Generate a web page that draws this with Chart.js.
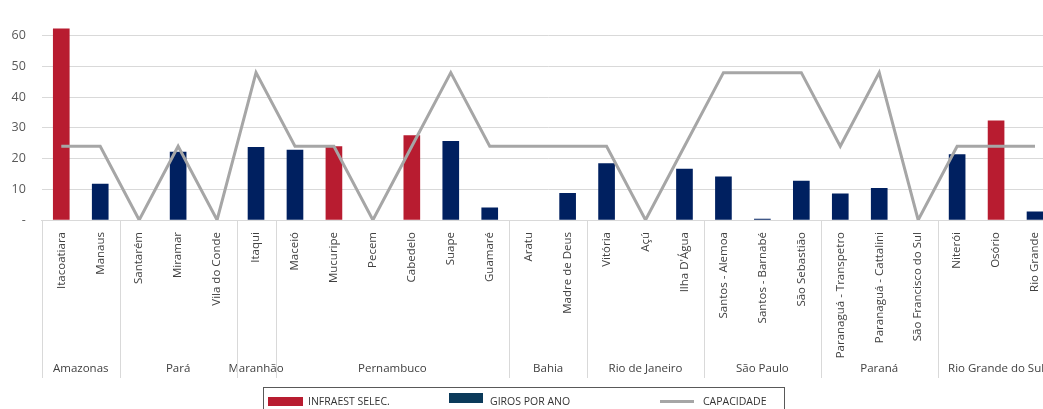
<!DOCTYPE html>
<html>
<head>
<meta charset="utf-8">
<script src="https://cdn.jsdelivr.net/npm/chart.js@4.4.1/dist/chart.umd.min.js"></script>
<style>
  body { margin: 0; background: #fff; }
  #wrap { width: 1043px; height: 409px; overflow: hidden; position: relative; }
</style>
</head>
<body>
<div id="wrap"><canvas id="myChart" width="1062" height="409"></canvas></div>
<script>
// categorias (terminais) e grupos por estado
var categorias = ['Itacoatiara','Manaus','Santarém','Miramar','Vila do Conde','Itaqui','Maceió','Mucuripe','Pecem','Cabedelo','Suape','Guamaré','Aratu','Madre de Deus','Vitória','Açú',"Ilha D'Água",'Santos - Alemoa','Santos - Barnabé','São Sebastião','Paranaguá - Transpetro','Paranaguá - Cattalini','São Francisco do Sul','Niterói','Osório','Rio Grande'];
var estados = ['Amazonas','Pará','Maranhão','Pernambuco','Bahia','Rio de Janeiro','São Paulo','Paraná','Rio Grande do Sul'];
var terminaisPorEstado = [2,3,1,6,2,3,3,3,3];

// series (null = sem barra)
var infraestSelec = [62.3,null,null,null,null,null,null,23.9,null,27.5,null,null,null,null,null,null,null,null,null,null,null,null,null,null,32.3,null];
var girosPorAno = [null,11.7,null,22.1,null,23.7,22.8,null,null,null,25.6,4.0,null,8.7,18.4,null,16.6,14.1,0.3,12.7,8.5,10.3,null,21.3,null,2.7];
var capacidade = [24,24,0,24,0,48,24,24,0,24,48,24,24,24,24,0,24,48,48,48,24,48,0,24,24,24];

// ticks do eixo y
var ticksY = [0,10,20,30,40,50,60];

var fonte = "'Open Sans', sans-serif";

// plugin: separadores e nomes dos estados embaixo do eixo x
var gruposEixo = {
    id: 'gruposEixo',
    afterDraw: function(chart){
        var c = chart.ctx, area = chart.chartArea;
        c.save();
        c.strokeStyle = '#d9d9d9';
        c.lineWidth = 1;
        var passo = (area.right - area.left) / categorias.length;
        var ini = 0;
        var linhas = [0];
        for(var i=0;i<estados.length;i++){
            var fim = ini + terminaisPorEstado[i];
            linhas.push(fim);
            var xm = area.left + passo * (ini + fim) / 2;
            c.fillStyle = '#404040';
            c.font = '11.5px ' + fonte;
            c.textAlign = 'center';
            c.textBaseline = 'middle';
            c.fillText(estados[i], xm, 369);
            ini = fim;
        }
        linhas.forEach(function(k){
            var xx = Math.round(area.left + passo * k) + 0.5;
            c.beginPath();
            c.moveTo(xx, area.bottom);
            c.lineTo(xx, 378);
            c.stroke();
        });
        c.restore();
    }
};

// plugin: legenda desenhada na caixa de baixo
var legendaCaixa = {
    id: 'legendaCaixa',
    afterDraw: function(chart){
        var c = chart.ctx;
        c.save();
        c.strokeStyle = '#595959';
        c.lineWidth = 1;
        c.strokeRect(263.5, 387.5, 521, 30);
        c.font = '10.5px ' + fonte;
        c.textBaseline = 'middle';
        c.textAlign = 'left';
        var ds = chart.data.datasets;
        // infraest
        c.fillStyle = '#B81C30';
        c.fillRect(268, 397, 35, 9);
        c.fillStyle = '#333333';
        c.fillText(ds[1].label, 308, 402);
        // giros
        c.fillStyle = '#0B3A5A';
        c.fillRect(449, 393, 34, 10);
        c.fillStyle = '#333333';
        c.fillText(ds[2].label, 490, 402);
        // capacidade
        c.strokeStyle = '#A6A6A6';
        c.lineWidth = 3;
        c.beginPath();
        c.moveTo(660, 401.5);
        c.lineTo(694, 401.5);
        c.stroke();
        c.fillText(ds[0].label, 703, 402);
        c.restore();
    }
};

var ctx = document.getElementById('myChart').getContext('2d');
var myChart = new Chart(ctx, {
    type: 'bar',
    data: {
        labels: categorias,
        datasets: [{
            type: 'line',
            label: 'CAPACIDADE',
            data: capacidade,
            borderColor: '#A6A6A6',
            borderWidth: 3,
            pointRadius: 0,
            tension: 0,
            fill: false,
            order: 0
        },{
            label: 'INFRAEST SELEC.',
            data: infraestSelec,
            backgroundColor: '#B81C30',
            grouped: false,
            barThickness: 16,
            order: 1
        },{
            label: 'GIROS POR ANO',
            data: girosPorAno,
            backgroundColor: '#002060',
            grouped: false,
            barThickness: 16,
            order: 1
        }]
    },
    options: {
        responsive: false,
        animation: false,
        layout: { padding: { top: 5, right: 7.5, left: 0, bottom: 0 } },
        plugins: {
            legend: { display: false },
            tooltip: { enabled: false }
        },
        scales: {
            x: {
                grid: { display: false },
                border: { display: true, color: '#d9d9d9' },
                ticks: {
                    minRotation: 90,
                    maxRotation: 90,
                    autoSkip: false,
                    padding: 4,
                    color: '#404040',
                    font: { family: fonte, size: 11.5 }
                },
                afterFit: function(s){ s.height = 189; }
            },
            y: {
                min: 0,
                max: 64,
                afterBuildTicks: function(s){
                    s.ticks = ticksY.map(function(v){ return { value: v }; });
                },
                grid: { color: '#d9d9d9', drawTicks: false },
                border: { display: false },
                ticks: {
                    padding: 16,
                    color: '#595959',
                    font: { family: fonte, size: 12.5 },
                    callback: function(v){ return v === 0 ? '-' : v; }
                },
                afterFit: function(s){ s.width = 41.8; }
            }
        }
    },
    plugins: [gruposEixo, legendaCaixa]
});
</script>
</body>
</html>
